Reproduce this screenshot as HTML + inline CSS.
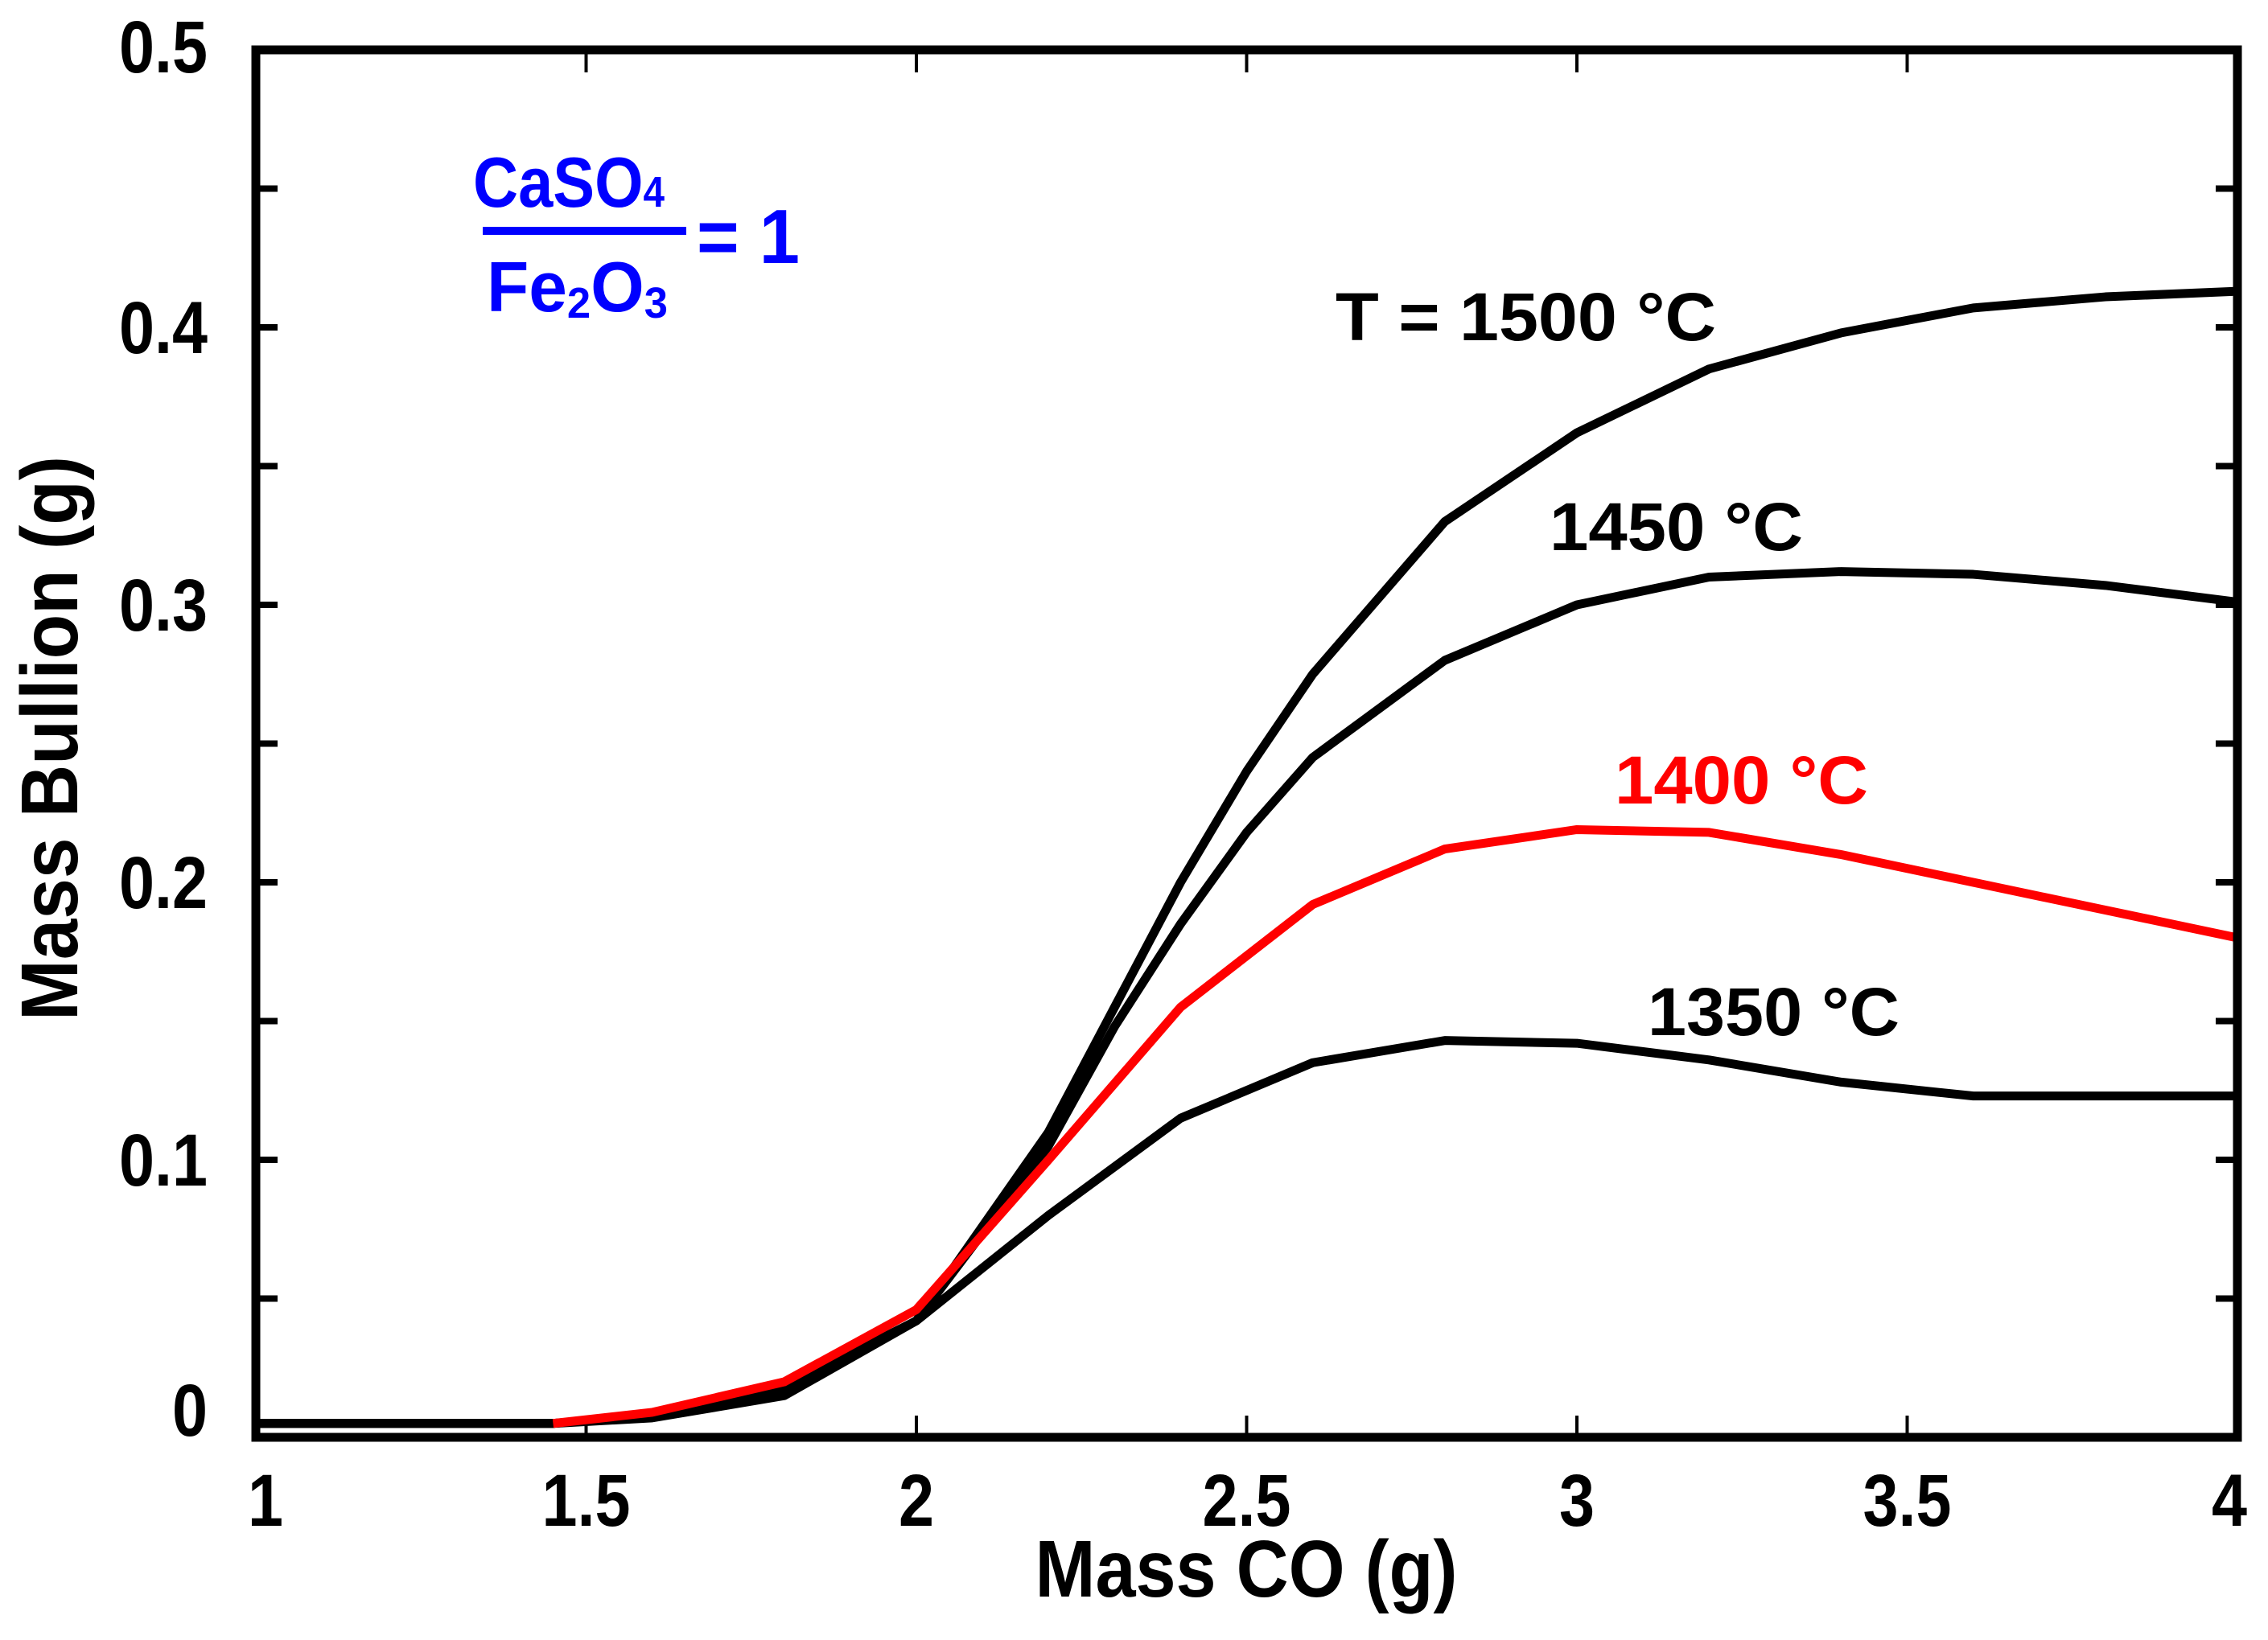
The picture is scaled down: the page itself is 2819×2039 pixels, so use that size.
<!DOCTYPE html>
<html><head><meta charset="utf-8"><style>
html,body{margin:0;padding:0;background:#fff;}
svg{display:block;}
text{font-family:"Liberation Sans",sans-serif;font-weight:bold;}
</style></head><body>
<svg id="chart" width="2819" height="2039" viewBox="0 0 2819 2039" xmlns="http://www.w3.org/2000/svg">
<g id="ticks"></g>
<g id="series"></g>
<rect x="318" y="62" width="2463" height="1725" fill="none" stroke="#000" stroke-width="11"/>
<g id="labels"></g>
<text x="1549" y="1985" font-size="100" text-anchor="middle" textLength="525" lengthAdjust="spacingAndGlyphs">Mass CO (g)</text>
<text transform="translate(96,918) rotate(-90)" font-size="100" text-anchor="middle" textLength="702" lengthAdjust="spacingAndGlyphs">Mass Bullion (g)</text>
<g fill="#0000ff">
<text x="588" y="257" font-size="88" textLength="238" lengthAdjust="spacingAndGlyphs">CaSO<tspan font-size="54">4</tspan></text>
<rect x="600" y="282" width="253" height="10" fill="#0000ff"/>
<text x="605" y="387" font-size="88" textLength="225" lengthAdjust="spacingAndGlyphs">Fe<tspan font-size="54" dy="8">2</tspan><tspan dy="-8">O</tspan><tspan font-size="54" dy="8">3</tspan></text>
<text x="866" y="327" font-size="96" textLength="128" lengthAdjust="spacingAndGlyphs">= 1</text>
</g>
<text x="1660" y="423" font-size="84" textLength="473" lengthAdjust="spacingAndGlyphs">T = 1500 °C</text>
<text x="1926" y="684" font-size="84" textLength="315" lengthAdjust="spacingAndGlyphs">1450 °C</text>
<text x="2007" y="999" font-size="84" fill="#ff0000" textLength="315" lengthAdjust="spacingAndGlyphs">1400 °C</text>
<text x="2048" y="1287" font-size="84" textLength="313" lengthAdjust="spacingAndGlyphs">1350 °C</text>
</svg>
<script>
const xs1500 = [1, 1.45, 1.6, 1.8, 2.0, 2.2, 2.3, 2.4, 2.5, 2.6, 2.8, 3.0, 3.2, 3.4, 3.6, 3.8, 4.0];
const ys1500 = [0.005, 0.005, 0.008, 0.018, 0.042, 0.11, 0.155, 0.2, 0.24, 0.275, 0.33, 0.362, 0.385, 0.398, 0.407, 0.411, 0.413];
const xs1450 = [1, 1.45, 1.6, 1.8, 2.0, 2.2, 2.3, 2.4, 2.5, 2.6, 2.8, 3.0, 3.2, 3.4, 3.6, 3.8, 4.0];
const ys1450 = [0.005, 0.005, 0.008, 0.017, 0.042, 0.105, 0.148, 0.185, 0.218, 0.245, 0.28, 0.3, 0.31, 0.312, 0.311, 0.307, 0.301];
const xs1400 = [1.45, 1.6, 1.8, 2.0, 2.2, 2.4, 2.6, 2.8, 3.0, 3.2, 3.4, 3.6, 3.8, 4.0];
const ys1400 = [0.005, 0.009, 0.02, 0.046, 0.1, 0.155, 0.192, 0.212, 0.219, 0.218, 0.21, 0.2, 0.19, 0.18];
const xs1350 = [1, 1.45, 1.6, 1.8, 2.0, 2.2, 2.4, 2.6, 2.8, 3.0, 3.2, 3.4, 3.6, 3.8, 4.0];
const ys1350 = [0.005, 0.005, 0.007, 0.015, 0.042, 0.08, 0.115, 0.135, 0.143, 0.142, 0.136, 0.128, 0.123, 0.123, 0.123];
const xTicks = [1, 1.5, 2, 2.5, 3, 3.5, 4];
const xTickLabels = ["1", "1.5", "2", "2.5", "3", "3.5", "4"];
const yTicks = [0, 0.1, 0.2, 0.3, 0.4, 0.5];
const yTickLabels = ["0", "0.1", "0.2", "0.3", "0.4", "0.5"];
const yMinor = [0.05, 0.15, 0.25, 0.35, 0.45];

const NS = "http://www.w3.org/2000/svg";
const X = v => 318 + (v - 1) / 3 * 2463;
const Y = v => 1787 - v / 0.5 * 1725;
const tg = document.getElementById('ticks');
const lg = document.getElementById('labels');
const sg = document.getElementById('series');
const lw = s => s.split('').reduce((a,c)=>a+(c=='.'?22:44),0);
function line(x1,y1,x2,y2,w){const l=document.createElementNS(NS,'line');l.setAttribute('x1',x1);l.setAttribute('y1',y1);l.setAttribute('x2',x2);l.setAttribute('y2',y2);l.setAttribute('stroke','#000');l.setAttribute('stroke-width',w);return l;}
xTicks.forEach((v,i)=>{
  const a=line(X(v),1787,X(v),1760,4);
  
  
  tg.appendChild(a);
  const b=line(X(v),62,X(v),90,4);
  
  
  tg.appendChild(b);
  const t=document.createElementNS(NS,'text');
  
  
  t.setAttribute('x',X(v)+(i==6?-10:i==0?12:0));t.setAttribute('y',1897);t.setAttribute('font-size','92');t.setAttribute('text-anchor','middle');
  t.setAttribute('textLength',lw(xTickLabels[i]));t.setAttribute('lengthAdjust','spacingAndGlyphs');
  t.textContent=xTickLabels[i];lg.appendChild(t);
});
yTicks.concat(yMinor).forEach(v=>{
  const a=line(318,Y(v),345,Y(v),8);
  
  
  tg.appendChild(a);
  const b=line(2754,Y(v),2781,Y(v),8);
  
  
  tg.appendChild(b);
});
yTicks.forEach((v,i)=>{
  const t=document.createElementNS(NS,'text');
  
  
  t.setAttribute('x',258);t.setAttribute('y',Y(v)+(i==0?-2:i==5?28:32));t.setAttribute('font-size','92');t.setAttribute('text-anchor','end');
  t.setAttribute('textLength',lw(yTickLabels[i]));t.setAttribute('lengthAdjust','spacingAndGlyphs');
  t.textContent=yTickLabels[i];lg.appendChild(t);
});
function series(xs,ys,color,name){
  const p=document.createElementNS(NS,'polyline');
  
  
  p.setAttribute('points',xs.map((x,i)=>X(x)+','+Y(ys[i])).join(' '));
  p.setAttribute('fill','none');p.setAttribute('stroke',color);p.setAttribute('stroke-width','11');p.setAttribute('stroke-linejoin','round');
  sg.appendChild(p);
}
series(xs1350,ys1350,'#000','line-1350');
series(xs1450,ys1450,'#000','line-1450');
series(xs1500,ys1500,'#000','line-1500');
series(xs1400,ys1400,'#ff0000','line-1400');
</script>
</body></html>
